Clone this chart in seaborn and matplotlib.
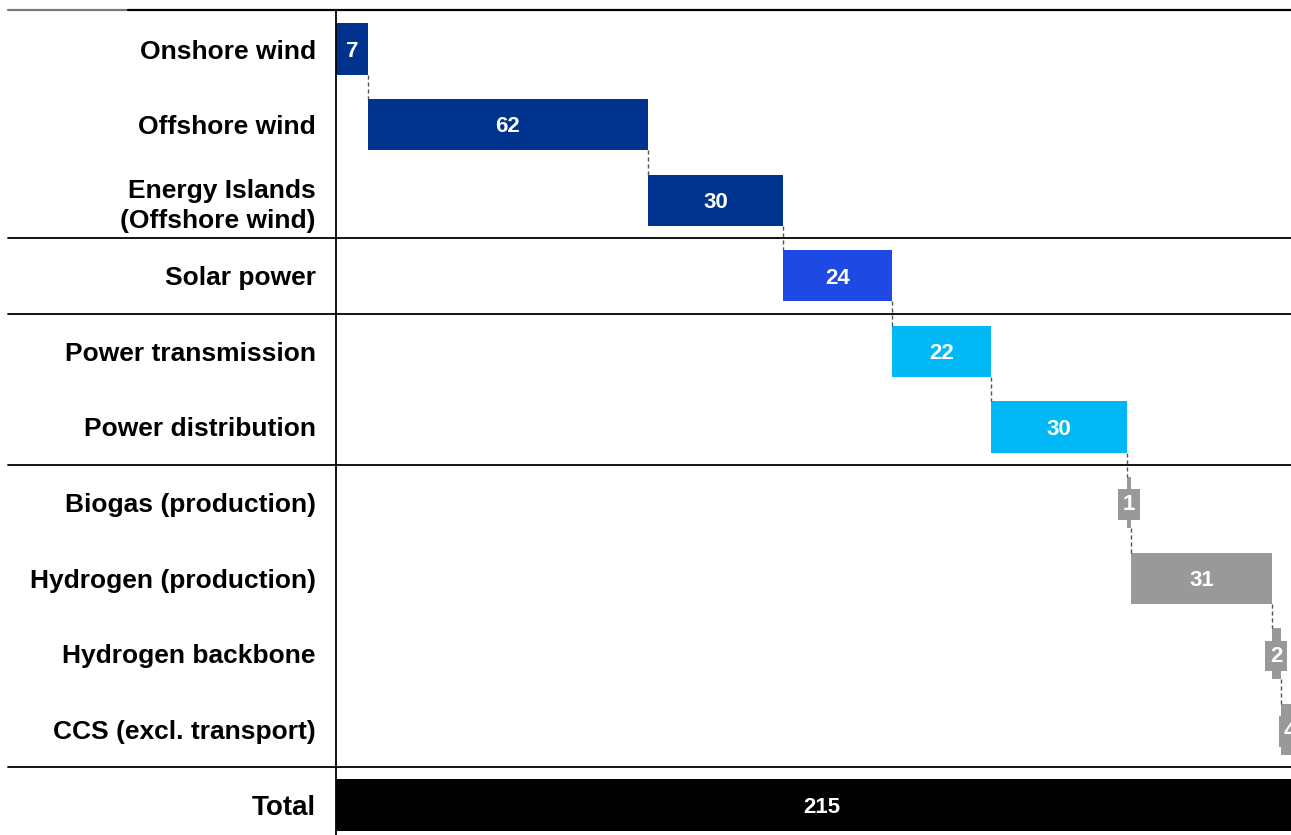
import numpy as np
import pandas as pd
import matplotlib
matplotlib.use("Agg")
import matplotlib.pyplot as plt
import seaborn as sns

categories = ["Onshore wind", "Offshore wind", "Energy Islands\n(Offshore wind)", "Solar power",
              "Power transmission", "Power distribution", "Biogas (production)",
              "Hydrogen (production)", "Hydrogen backbone", "CCS (excl. transport)", "Total"]
values = [7, 62, 30, 24, 22, 30, 1, 31, 2, 4, 215]
colors = ["#00338D", "#00338D", "#00338D", "#1E49E2", "#00B8F5", "#00B8F5",
          "#999999", "#999999", "#999999", "#999999", "#000000"]
separators = [2.5, 3.5, 5.5, 9.5]

sns.set_theme(style="white")
plt.rcParams["font.family"] = ["Liberation Sans", "DejaVu Sans"]

W, H = 1291, 835
fig = plt.figure(figsize=(W / 100, H / 100), dpi=100)
ax = fig.add_axes([336 / W, 0, 1 - 336 / W, 1 - 10 / H])

df = pd.DataFrame({"cat": categories, "val": values})
sns.barplot(data=df, x="val", y="cat", hue="cat", palette=colors, legend=False,
            width=0.675, orient="h", ax=ax, saturation=1)

bases = list(np.concatenate([[0], np.cumsum(values[:-1])[:-1]])) + [0]
n = len(categories)
for i, p in enumerate(ax.patches[:n]):
    p.set_x(bases[i])
    p.set_linewidth(0)
    if i == n - 1:
        p.set_y(i - 0.35)
        p.set_height(0.7)

ax.set_xlim(0, 211.3)
ax.set_ylim(n - 1 + 0.397, -0.516)

# connectors
for i in range(n - 2):
    xe = bases[i] + values[i]
    ax.plot([xe, xe], [i + 0.3375, i + 1 - 0.3375], ls=(0, (3, 2)), color="#555555",
            lw=1, zorder=3)

# value labels
for i, v in enumerate(values):
    xc = bases[i] + v / 2
    fs = 16
    yc = i + 0.03
    if v < 5 and i != n - 1:
        ax.text(xc, yc, str(v), ha="center", va="center", color="white", fontsize=fs,
                fontweight="bold", zorder=4, clip_on=True,
                bbox=dict(boxstyle="square,pad=0.22", fc=colors[i], ec="none"))
    else:
        ax.text(xc, yc, str(v), ha="center", va="center", color="white", fontsize=fs,
                fontweight="bold", zorder=4, clip_on=True)

# separators
x0 = (8 - 336) / (W - 336)
xg = (128 - 336) / (W - 336)
for s in separators:
    ax.plot([x0, 1], [s, s], transform=ax.get_yaxis_transform(), color="black", lw=1.3,
            clip_on=False, zorder=5)
ax.plot([x0, xg], [-0.516, -0.516], transform=ax.get_yaxis_transform(),
        color="#777777", lw=1.6, clip_on=False, zorder=5)
ax.plot([xg, 1], [-0.516, -0.516], transform=ax.get_yaxis_transform(),
        color="black", lw=1.6, clip_on=False, zorder=5)

ax.set_xlabel("")
ax.set_ylabel("")
ax.set_xticks([])
ax.tick_params(axis="y", length=0, pad=14.4)
for k, lab in enumerate(ax.get_yticklabels()):
    lab.set_fontweight("bold")
    lab.set_fontsize(20 if k == n - 1 else 19)
    lab.set_color("black")
    lab.set_linespacing(1.33)
for side in ["top", "right", "bottom"]:
    ax.spines[side].set_visible(False)
ax.spines["left"].set_color("black")
ax.spines["left"].set_linewidth(1.3)

fig.savefig("out.png", dpi=100)
